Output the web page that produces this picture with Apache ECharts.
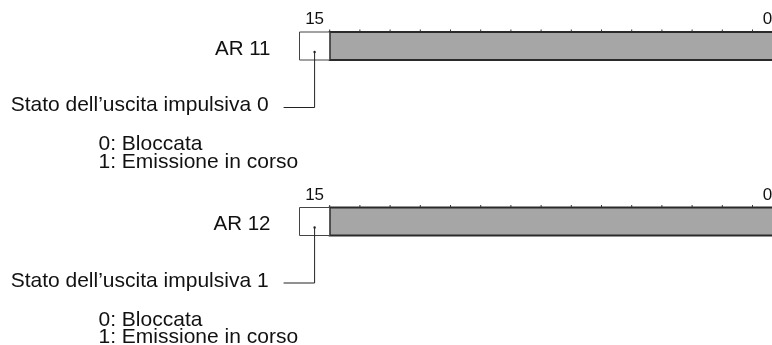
<!DOCTYPE html>
<html><head><meta charset="utf-8">
<script src="https://cdn.jsdelivr.net/npm/echarts@6/dist/echarts.min.js"></script>
<style>html,body{margin:0;padding:0;background:#fff}#c{width:772px;height:345px}</style>
</head><body><div id="c"></div>
<script>
// ---- data ----
const registers = ['AR 11', 'AR 12'];
const bitCount = 16;
const usedBit = [15, 15];
const edgeBits = [15, 0];
const edgeBitLabels = ['15', '0'];
const leaderTexts = ['Stato dell\u2019uscita impulsiva 0', 'Stato dell\u2019uscita impulsiva 1'];
const stateTexts = ['0: Bloccata', '1: Emissione in corso'];

// ---- layout ----
const FONT = '"Liberation Sans", Arial, sans-serif';
const FS = 21;
const cellW = 30.2;
const boxLeft = 299.5;
const boxTop0 = 32;
const regStep = 175.5;
const boxH = 28;
const visibleBits = (772 - boxLeft) / cellW; // the register runs past the right edge

const chart = echarts.init(document.getElementById('c'));
const grids = [], xAxes = [], yAxes = [], series = [];
registers.forEach((name, ri) => {
  grids.push({left: boxLeft, top: boxTop0 + ri * regStep, right: 0, height: boxH});
  xAxes.push({type: 'value', gridIndex: ri, min: bitCount - visibleBits, max: bitCount, inverse: true, show: false});
  yAxes.push({type: 'value', gridIndex: ri, min: 0, max: 1, show: false});
  series.push({
    type: 'custom', xAxisIndex: ri, yAxisIndex: ri, clip: false, silent: true,
    data: [[usedBit[ri], 1]],
    renderItem: function (params, api) {
      const u = api.value(0);
      const tl = api.coord([bitCount, 1]);
      const br = api.coord([0, 0]);
      const uL = api.coord([u + 1, 1]);
      const uR = api.coord([u, 0]);
      const cx = (uL[0] + uR[0]) / 2;
      const cy = (tl[1] + br[1]) / 2;
      const leaderY = br[1] + 47.5;
      const children = [];
      children.push({type: 'rect', shape: {x: uR[0], y: tl[1], width: br[0] - uR[0], height: br[1] - tl[1]},
        style: {fill: '#a6a6a6', stroke: '#2a2a2a', lineWidth: 2}, z2: 1});
      children.push({type: 'rect', shape: {x: uL[0], y: tl[1], width: uR[0] - uL[0], height: br[1] - tl[1]},
        style: {fill: '#fff', stroke: '#444', lineWidth: 1}, z2: 1});
      for (let b = 1; b < bitCount; b++) {
        const p = api.coord([b, 1]);
        children.push({type: 'line', shape: {x1: p[0], y1: p[1] - 2.5, x2: p[0], y2: p[1]},
          style: {stroke: '#333', lineWidth: 1}, z2: 2});
      }
      edgeBits.forEach((b, k) => {
        const p = api.coord([b + 0.5, 1]);
        children.push({type: 'text', x: p[0], y: tl[1] - 4,
          style: {text: edgeBitLabels[k], font: '17px ' + FONT, fill: '#111', align: 'center', verticalAlign: 'bottom'}});
      });
      children.push({type: 'text', x: tl[0] - 29, y: cy + 3,
        style: {text: registers[params.seriesIndex], font: '20.5px ' + FONT, fill: '#111', align: 'right', verticalAlign: 'middle'}});
      children.push({type: 'circle', shape: {cx: cx, cy: cy + 6, r: 1.2}, style: {fill: '#222'}, z2: 3});
      children.push({type: 'polyline', shape: {points: [[cx, cy + 6], [cx, leaderY], [cx - 31, leaderY]]},
        style: {stroke: '#222', lineWidth: 1, fill: null}, z2: 3});
      children.push({type: 'text', x: cx - 46, y: leaderY - 2,
        style: {text: leaderTexts[params.seriesIndex], font: FS + 'px ' + FONT, fill: '#111', align: 'right', verticalAlign: 'middle'}});
      stateTexts.forEach((t, k) => {
        children.push({type: 'text', x: tl[0] - 201, y: leaderY + 37 + k * 17.5,
          style: {text: t, font: FS + 'px ' + FONT, fill: '#111', align: 'left', verticalAlign: 'middle'}});
      });
      return {type: 'group', children: children};
    }
  });
});
chart.setOption({animation: false, grid: grids, xAxis: xAxes, yAxis: yAxes, series: series});
</script></body></html>
